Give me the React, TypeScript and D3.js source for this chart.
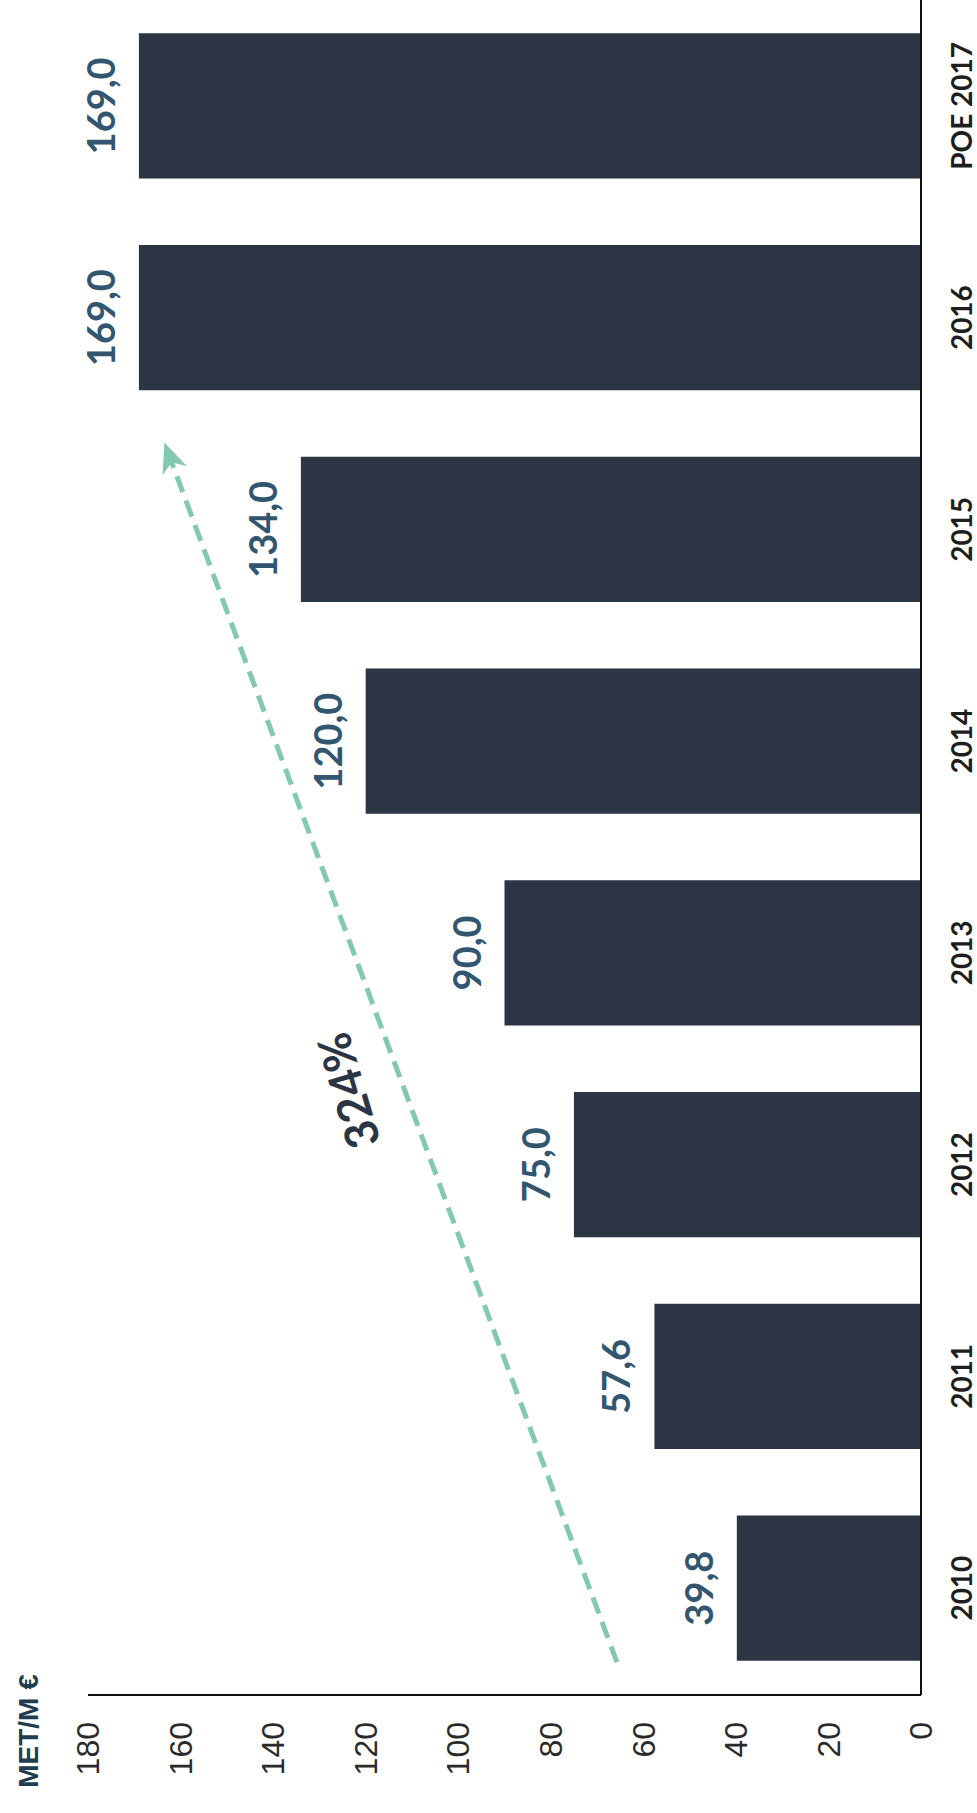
import React from "react";
import * as d3 from "d3";

const categories = ["2010", "2011", "2012", "2013", "2014", "2015", "2016", "POE 2017"];
const values = [39.8, 57.6, 75.0, 90.0, 120.0, 134.0, 169.0, 169.0];
const valueLabels = ["39,8", "57,6", "75,0", "90,0", "120,0", "134,0", "169,0", "169,0"];
const ticks = [0, 20, 40, 60, 80, 100, 120, 140, 160, 180];
const unitLabel = "MET/M €";
const growthLabel = "324%";
// arrow annotation in data terms: [value, fractional category index]
const arrowStart = [65.7, -0.35];
const arrowEnd = [163.5, 5.41];
const growthPos = [123.6, 2.35];

const W = 977;
const H = 1813;

export default function App() {
  const x = d3.scaleLinear().domain([0, 180]).range([921, 88]);
  const y = d3
    .scaleBand<string>()
    .domain(categories)
    .range([1694, 0])
    .paddingInner(0.314)
    .paddingOuter(0.157);
  const bw = y.bandwidth();
  const c0 = y(categories[0])! + bw / 2;
  const step = y.step();
  const yIdx = (i: number) => c0 - i * step;

  const barColor = "#2b3544";
  const labelColor = "#335670";
  const teal = "#82c8b3";

  const ax = x(arrowStart[0]);
  const ay = yIdx(arrowStart[1]);
  const bx = x(arrowEnd[0]);
  const by = yIdx(arrowEnd[1]);
  const dx = bx - ax;
  const dy = by - ay;
  const len = Math.sqrt(dx * dx + dy * dy);
  const ux = dx / len;
  const uy = dy / len;
  const px = -uy;
  const py = ux;
  const headLen = 30;
  const headW = 13;
  const notch = 9;
  const lineEndX = bx - ux * (headLen - notch);
  const lineEndY = by - uy * (headLen - notch);
  const head = [
    [bx, by],
    [bx - ux * headLen + px * headW, by - uy * headLen + py * headW],
    [bx - ux * (headLen - notch), by - uy * (headLen - notch)],
    [bx - ux * headLen - px * headW, by - uy * headLen - py * headW],
  ];
  const angle = (Math.atan2(dy, dx) * 180) / Math.PI + 4;

  const latoB = "Lato, 'Open Sans', sans-serif";
  const arial = "'Liberation Sans', Arial, sans-serif";

  return (
    <svg
      width={W}
      height={H}
      style={{ position: "absolute", left: 0, top: 0, background: "#fff" }}
    >
      <rect x={0} y={0} width={W} height={H} fill="#fff" />
      {/* bars */}
      {categories.map((c, i) => (
        <rect
          key={c}
          x={x(values[i])}
          y={y(c)!}
          width={x(0) - x(values[i])}
          height={bw}
          fill={barColor}
        />
      ))}
      {/* axes lines */}
      <line x1={x(0)} x2={x(0)} y1={0} y2={1695} stroke="#111" strokeWidth={2} />
      <line x1={x(180)} x2={x(0)} y1={1695} y2={1695} stroke="#111" strokeWidth={2} />
      {/* tick labels */}
      {ticks.map((t) => (
        <text
          key={t}
          transform={`translate(${x(t)},1722) rotate(-90)`}
          textAnchor="end"
          dy="0.35em"
          fontFamily={arial}
          fontSize={32}
          fill="#2a2a2a"
        >
          {t}
        </text>
      ))}
      {/* unit title */}
      <text
        transform={`translate(38,1731) rotate(-90)`}
        textAnchor="middle"
        fontFamily={arial}
        fontWeight="bold"
        fontSize={28}
        fill="#1f3d4f"
      >
        {unitLabel}
      </text>
      {/* value labels */}
      {categories.map((c, i) => (
        <text
          key={c}
          transform={`translate(${x(values[i]) - 24},${y(c)! + bw / 2}) rotate(-90)`}
          textAnchor="middle"
          fontFamily={latoB}
          fontWeight="bold"
          fontSize={38}
          fill={labelColor}
        >
          {valueLabels[i]}
        </text>
      ))}
      {/* category labels */}
      {categories.map((c) => (
        <text
          key={c}
          transform={`translate(972,${y(c)! + bw / 2}) rotate(-90)`}
          textAnchor="middle"
          fontFamily={latoB}
          fontWeight="bold"
          fontSize={28}
          fill="#1e1e1e"
        >
          {c}
        </text>
      ))}
      {/* growth arrow */}
      <line
        x1={ax}
        y1={ay}
        x2={lineEndX}
        y2={lineEndY}
        stroke={teal}
        strokeWidth={5}
        strokeDasharray="17 9"
      />
      <polygon points={head.map((p) => p.join(",")).join(" ")} fill={teal} />
      <text
        transform={`translate(${x(growthPos[0])},${yIdx(growthPos[1])}) rotate(${angle})`}
        textAnchor="middle"
        dy="0.35em"
        fontFamily={latoB}
        fontWeight="bold"
        fontSize={46}
        fill="#2b3544"
      >
        {growthLabel}
      </text>
    </svg>
  );
}
